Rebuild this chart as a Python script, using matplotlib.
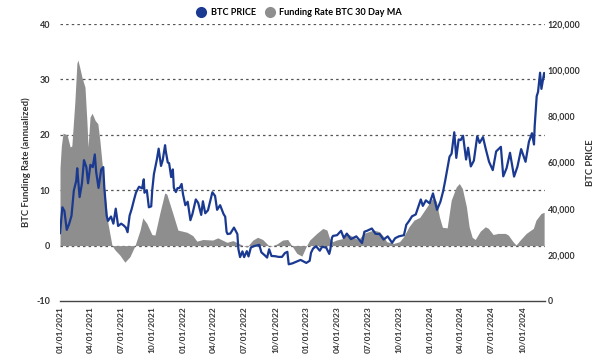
import matplotlib
matplotlib.use("Agg")
import matplotlib.pyplot as plt
import matplotlib.dates as mdates
from matplotlib.lines import Line2D
import pandas as pd

plt.rcParams['font.family'] = ['Lato', 'DejaVu Sans']
plt.rcParams['font.weight'] = 'bold'

# Funding rate (BTC 30 day MA, annualized %)
fr_dates = ["2021-01-01", "2021-01-05", "2021-01-10", "2021-01-22", "2021-01-31", "2021-02-05",
            "2021-02-14", "2021-02-20", "2021-02-23", "2021-03-01", "2021-03-07", "2021-03-16",
            "2021-03-22", "2021-03-25", "2021-03-31", "2021-04-06", "2021-04-15", "2021-04-23",
            "2021-04-29", "2021-05-14", "2021-05-23", "2021-06-04", "2021-06-13", "2021-06-27",
            "2021-07-12", "2021-07-27", "2021-08-11", "2021-08-26", "2021-09-03", "2021-09-15",
            "2021-09-30", "2021-10-09", "2021-10-24", "2021-11-07", "2021-11-13", "2021-12-01",
            "2021-12-16", "2022-01-12", "2022-01-29", "2022-02-10", "2022-02-28", "2022-03-29",
            "2022-04-13", "2022-05-10", "2022-05-28", "2022-06-17", "2022-07-08", "2022-07-26",
            "2022-08-09", "2022-08-24", "2022-09-14", "2022-10-05", "2022-10-22", "2022-11-06",
            "2022-11-18", "2022-12-03", "2022-12-18", "2023-01-01", "2023-01-10", "2023-01-31",
            "2023-02-18", "2023-03-02", "2023-03-10", "2023-03-19", "2023-03-30", "2023-04-20",
            "2023-04-29", "2023-05-19", "2023-06-03", "2023-06-18", "2023-07-18", "2023-08-05",
            "2023-08-17", "2023-08-26", "2023-09-16", "2023-10-03", "2023-10-15", "2023-10-31",
            "2023-11-15", "2023-12-02", "2023-12-23", "2024-01-07", "2024-01-14", "2024-01-20",
            "2024-01-29", "2024-02-07", "2024-02-21", "2024-03-04", "2024-03-19", "2024-03-28",
            "2024-04-06", "2024-04-18", "2024-04-26", "2024-05-05", "2024-05-14", "2024-05-29",
            "2024-06-13", "2024-06-22", "2024-07-06", "2024-07-21", "2024-08-11", "2024-08-20",
            "2024-09-03", "2024-09-12", "2024-09-24", "2024-10-12", "2024-11-02", "2024-11-10",
            "2024-11-25", "2024-12-04"]
fr_values = [14.0, 18.0, 20.3, 20.0, 17.8, 18.0,
             26.0, 32.9, 33.5, 32.0, 30.4, 28.6,
             22.0, 17.8, 23.2, 23.9, 22.6, 22.0,
             19.0, 9.5, 4.0, 0.0, -0.8, -1.7,
             -3.0, -2.0, 0.0, 2.8, 5.0, 4.0,
             2.0, 1.9, 6.0, 9.5, 9.3, 5.8,
             2.8, 2.4, 1.8, 0.8, 1.1, 1.0,
             1.4, 0.6, 0.9, 0.3, -0.3, 1.0,
             1.5, 1.1, -0.2, 0.3, 1.0, 1.1,
             0.0, -1.4, -1.9, 0.0, 1.0, 2.2,
             3.1, 2.8, 1.3, 0.7, 1.0, 1.3,
             2.2, 1.6, 1.0, 2.2, 2.8, 2.5,
             1.6, 0.7, 0.4, 0.7, 1.6, 3.4,
             4.6, 5.1, 7.0, 8.4, 8.6, 8.0,
             5.2, 3.3, 3.2, 8.2, 10.6, 11.2,
             10.3, 7.0, 3.4, 1.5, 1.1, 2.6,
             3.4, 3.1, 2.0, 2.2, 2.2, 1.9,
             0.7, 0.1, 1.0, 2.2, 3.1, 4.6,
             5.8, 6.0]

# BTC price (USD)
btc_dates = ["2021-01-01", "2021-01-08", "2021-01-14", "2021-01-21", "2021-01-28", "2021-02-04",
             "2021-02-11", "2021-02-18", "2021-02-21", "2021-02-28", "2021-03-07", "2021-03-13",
             "2021-03-20", "2021-03-25", "2021-04-01", "2021-04-08", "2021-04-14", "2021-04-18",
             "2021-04-25", "2021-05-03", "2021-05-09", "2021-05-12", "2021-05-19", "2021-05-23",
             "2021-06-01", "2021-06-08", "2021-06-15", "2021-06-22", "2021-07-01", "2021-07-08",
             "2021-07-15", "2021-07-20", "2021-07-26", "2021-08-01", "2021-08-08", "2021-08-14",
             "2021-08-23", "2021-09-01", "2021-09-06", "2021-09-08", "2021-09-15", "2021-09-21",
             "2021-09-28", "2021-10-01", "2021-10-06", "2021-10-15", "2021-10-20", "2021-10-27",
             "2021-11-01", "2021-11-08", "2021-11-10", "2021-11-16", "2021-11-20", "2021-11-26",
             "2021-12-01", "2021-12-04", "2021-12-10", "2021-12-15", "2021-12-21", "2021-12-27",
             "2021-12-31", "2022-01-07", "2022-01-14", "2022-01-22", "2022-01-28", "2022-02-07",
             "2022-02-14", "2022-02-23", "2022-02-28", "2022-03-07", "2022-03-15", "2022-03-28",
             "2022-04-05", "2022-04-11", "2022-04-20", "2022-04-30", "2022-05-05", "2022-05-09",
             "2022-05-12", "2022-05-20", "2022-05-31", "2022-06-10", "2022-06-13", "2022-06-18",
             "2022-06-25", "2022-06-30", "2022-07-08", "2022-07-13", "2022-07-20", "2022-07-30",
             "2022-08-14", "2022-08-20", "2022-08-30", "2022-09-06", "2022-09-12", "2022-09-19",
             "2022-09-30", "2022-10-10", "2022-10-20", "2022-10-29", "2022-11-05", "2022-11-09",
             "2022-11-20", "2022-12-01", "2022-12-14", "2022-12-31", "2023-01-10", "2023-01-14",
             "2023-01-20", "2023-01-29", "2023-02-09", "2023-02-16", "2023-02-28", "2023-03-09",
             "2023-03-12", "2023-03-17", "2023-03-20", "2023-04-01", "2023-04-13", "2023-04-21",
             "2023-04-30", "2023-05-12", "2023-05-28", "2023-06-14", "2023-06-21", "2023-06-30",
             "2023-07-13", "2023-07-24", "2023-08-05", "2023-08-17", "2023-08-29", "2023-09-11",
             "2023-09-20", "2023-10-01", "2023-10-16", "2023-10-23", "2023-10-31", "2023-11-09",
             "2023-11-20", "2023-12-05", "2023-12-11", "2023-12-20", "2023-12-31", "2024-01-10",
             "2024-01-22", "2024-02-01", "2024-02-09", "2024-02-15", "2024-02-28", "2024-03-05",
             "2024-03-13", "2024-03-19", "2024-03-26", "2024-04-01", "2024-04-08", "2024-04-17",
             "2024-04-23", "2024-05-01", "2024-05-10", "2024-05-20", "2024-05-27", "2024-06-06",
             "2024-06-14", "2024-06-24", "2024-07-05", "2024-07-15", "2024-07-29", "2024-08-05",
             "2024-08-15", "2024-08-25", "2024-09-06", "2024-09-16", "2024-09-27", "2024-10-10",
             "2024-10-20", "2024-10-29", "2024-11-04", "2024-11-06", "2024-11-12", "2024-11-16",
             "2024-11-22", "2024-11-26", "2024-12-04", "2024-12-05"]
btc_values = [29400, 40600, 39000, 30800, 33400, 36900,
              47900, 52000, 57500, 45000, 51000, 61000,
              58000, 51000, 59000, 58000, 63500, 56000,
              49000, 57000, 58000, 49500, 37000, 34700,
              36600, 33500, 40000, 32500, 33500, 32800,
              31800, 29800, 37000, 39800, 43800, 47000,
              49500, 48800, 52700, 46900, 48000, 40600,
              41000, 48000, 55000, 61500, 66000, 58500,
              61000, 67500, 65000, 60000, 59700, 53700,
              57000, 49000, 47200, 48900, 49000, 50700,
              46300, 41500, 43000, 35000, 37700, 44000,
              42500, 37300, 43200, 38000, 39300, 47100,
              45500, 39500, 41500, 37700, 36500, 30000,
              29000, 29200, 31800, 29000, 22500, 19000,
              21500, 19000, 21600, 19300, 23200, 23800,
              24300, 21100, 19800, 18800, 22400, 19500,
              19400, 19100, 19100, 20800, 21300, 15900,
              16300, 17000, 17800, 16500, 17400, 20900,
              22700, 23700, 21800, 23500, 23100, 20400,
              22200, 27400, 28200, 28500, 30400, 27300,
              29200, 26800, 28000, 25100, 30000, 30500,
              31400, 29100, 29000, 26600, 28000, 25200,
              27200, 28000, 28500, 33000, 34600, 36700,
              37500, 44000, 41200, 43600, 42300, 46600,
              39500, 43000, 47500, 52000, 62500, 63800,
              73100, 62000, 70000, 69700, 71600, 61300,
              66400, 58300, 60800, 71400, 68500, 71000,
              66000, 60300, 56700, 64800, 66800, 54000,
              57600, 64200, 53900, 58200, 65800, 60300,
              69000, 72700, 67800, 75600, 88700, 90600,
              98900, 91900, 98800, 97000]

legend_labels = ["BTC PRICE", "Funding Rate BTC 30 Day MA"]
left_ticks = [-10, 0, 10, 20, 30, 40]
right_ticks = [0, 20000, 40000, 60000, 80000, 100000, 120000]

BLUE = "#1a3990"
GRAY = "#8e8e8e"
TXT = "#333333"

fr_x = pd.to_datetime(fr_dates)
btc_x = pd.to_datetime(btc_dates)

fig = plt.figure(figsize=(6.0, 3.59), dpi=100)
ax = fig.add_axes([0.1, 0.1616, 0.808, 0.7715])
ax2 = ax.twinx()

ax.fill_between(fr_x, 0, fr_values, color=GRAY, linewidth=0, zorder=2)
ax2.plot(btc_x, btc_values, color=BLUE, linewidth=1.6, zorder=3)

ax.set_ylim(-10, 40)
ax2.set_ylim(0, 120000)
ax.set_xlim(pd.Timestamp("2021-01-01"), pd.Timestamp("2024-12-06"))

ax.set_yticks(left_ticks)
ax.set_yticklabels([str(t) for t in left_ticks])
ax2.set_yticks(right_ticks)
ax2.set_yticklabels([f"{t:,}" for t in right_ticks])

for t in left_ticks[1:]:
    ax.axhline(t, color="#555555", linestyle=(0, (2, 2.5)), linewidth=0.9, zorder=1)

for a in (ax, ax2):
    for s in a.spines.values():
        s.set_visible(False)
ax.spines['bottom'].set_visible(True)
ax.spines['bottom'].set_color("#444444")
ax.spines['bottom'].set_linewidth(1.0)

ax.set_zorder(ax2.get_zorder() - 1)
ax.patch.set_visible(False)
ax2.patch.set_visible(False)

tick_dates = pd.date_range("2021-01-01", "2024-10-01", freq="3MS")
ax.set_xticks(tick_dates)
ax.xaxis.set_major_formatter(mdates.DateFormatter("%m/%d/%Y"))
ax.tick_params(axis='x', length=0, pad=4, labelsize=6, labelcolor=TXT, rotation=90)
ax.tick_params(axis='y', length=0, pad=7, labelsize=6.5, labelcolor=TXT)
ax2.tick_params(axis='y', length=0, pad=2, labelsize=6.3, labelcolor=TXT)
for lab in ax.get_xticklabels() + ax.get_yticklabels() + ax2.get_yticklabels():
    lab.set_fontweight('bold')

ax.set_ylabel("BTC Funding Rate (annualized)", fontsize=6.8, fontweight='bold', color=TXT, labelpad=4)
ax2.set_ylabel("BTC PRICE", fontsize=6.8, fontweight='bold', color=TXT, labelpad=4, rotation=90)

handles = [Line2D([], [], marker='o', linestyle='none', markersize=7, color=BLUE),
           Line2D([], [], marker='o', linestyle='none', markersize=7, color=GRAY)]
fig.legend(handles, legend_labels, loc='upper center', bbox_to_anchor=(0.495, 1.0), ncol=2,
           frameon=False, handletextpad=0.05, columnspacing=0.5,
           prop={'weight': 'bold', 'size': 6.6})

fig.savefig("out.png", dpi=100)
